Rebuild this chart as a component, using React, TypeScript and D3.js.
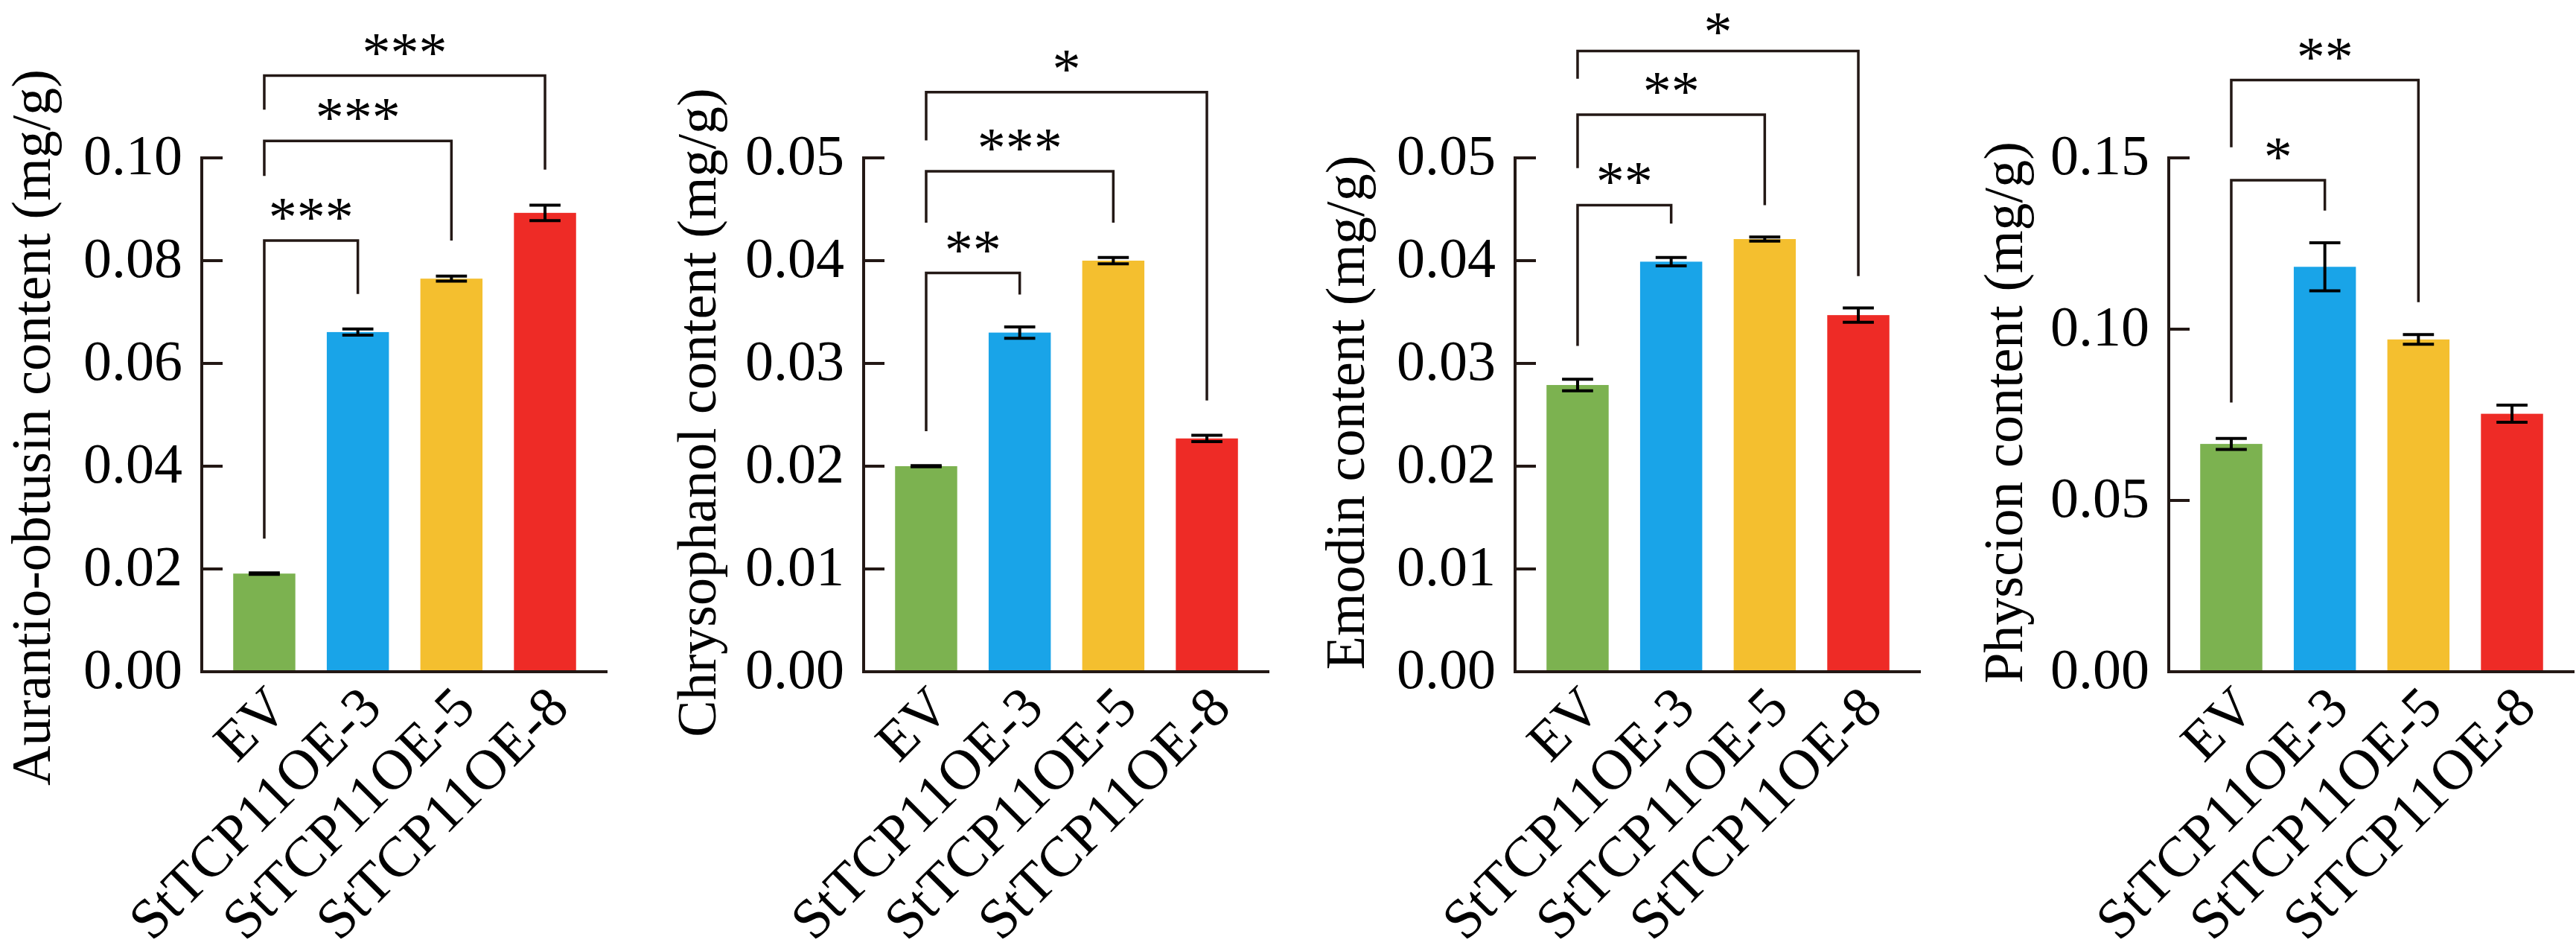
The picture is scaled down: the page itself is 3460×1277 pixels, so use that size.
import React from 'react';
import * as d3 from 'd3';

// groups and colours shared by the four panels
const groups = ['EV', 'StTCP11OE-3', 'StTCP11OE-5', 'StTCP11OE-8'];
const barColors = ['#7cb250', '#19a4e8', '#f4bf2f', '#ee2b26'];

// contents (mg/g), mean and SE
const aurantioMean = [0.0191, 0.0661, 0.0765, 0.0893];
const aurantioErr = [0.00015, 0.0006, 0.0005, 0.0015];
const chrysoMean = [0.0200, 0.0330, 0.0400, 0.0227];
const chrysoErr = [0.00005, 0.00055, 0.0003, 0.0003];
const emodinMean = [0.0279, 0.0399, 0.0421, 0.0347];
const emodinErr = [0.00056, 0.0004, 0.0002, 0.0007];
const physcionMean = [0.0665, 0.1182, 0.0970, 0.0753];
const physcionErr = [0.0016, 0.0070, 0.0014, 0.0025];

const aurantioTicks = [0, 0.02, 0.04, 0.06, 0.08, 0.10];
const chrysoTicks = [0, 0.01, 0.02, 0.03, 0.04, 0.05];
const emodinTicks = [0, 0.01, 0.02, 0.03, 0.04, 0.05];
const physcionTicks = [0, 0.05, 0.10, 0.15];

// significance brackets: [from, to, level, left leg end, right leg end, label]
type Bracket = [number, number, number, number, number, string];
const aurantioSig: Bracket[] = [
  [0, 1, 0.0839, 0.0259, 0.0735, '***'],
  [0, 2, 0.1033, 0.0965, 0.0839, '***'],
  [0, 3, 0.1160, 0.1094, 0.0977, '***'],
];
const chrysoSig: Bracket[] = [
  [0, 1, 0.0388, 0.0234, 0.0367, '**'],
  [0, 2, 0.0487, 0.0437, 0.0437, '***'],
  [0, 3, 0.0564, 0.0517, 0.0264, '*'],
];
const emodinSig: Bracket[] = [
  [0, 1, 0.0454, 0.0317, 0.0436, '**'],
  [0, 2, 0.0542, 0.0490, 0.0454, '**'],
  [0, 3, 0.0604, 0.0577, 0.0385, '*'],
];
const physcionSig: Bracket[] = [
  [0, 1, 0.1435, 0.0786, 0.1346, '*'],
  [0, 2, 0.1727, 0.1531, 0.1079, '**'],
];

const panels = [
  { title: 'Aurantio-obtusin content (mg/g)', mean: aurantioMean, err: aurantioErr, ticks: aurantioTicks, sig: aurantioSig, left: 271, titleGap: 204, titleMid: 574 },
  { title: 'Chrysophanol content (mg/g)', mean: chrysoMean, err: chrysoErr, ticks: chrysoTicks, sig: chrysoSig, left: 1160, titleGap: 199, titleMid: 554 },
  { title: 'Emodin content (mg/g)', mean: emodinMean, err: emodinErr, ticks: emodinTicks, sig: emodinSig, left: 2035, titleGap: 203, titleMid: 554 },
  { title: 'Physcion content (mg/g)', mean: physcionMean, err: physcionErr, ticks: physcionTicks, sig: physcionSig, left: 2913, titleGap: 197, titleMid: 554 },
];

const W = 3460;
const H = 1277;
const plotW = 545;
const yBottom = 902;
const yTop = 212;
const ink = '#231815';
const font = '"Liberation Serif", "Times New Roman", serif';
const fs = 76;
const titleFs = 74;

const Panel = ({ p }: { p: typeof panels[number] }) => {
  const x = d3.scaleBand<string>().domain(groups).range([p.left, p.left + plotW])
    .paddingInner(0.336).paddingOuter(0.336);
  const yMax = p.ticks[p.ticks.length - 1];
  const y = d3.scaleLinear().domain([0, yMax]).range([yBottom, yTop]);
  const cx = (i: number) => (x(groups[i]) || 0) + x.bandwidth() / 2;
  const capW = x.bandwidth() / 2;

  return (
    <g>
      {groups.map((g, i) => (
        <rect key={g} x={x(g)} y={y(p.mean[i])} width={x.bandwidth()}
          height={yBottom - y(p.mean[i])} fill={barColors[i]} />
      ))}
      {groups.map((g, i) => {
        const lo = y(p.mean[i] - p.err[i]);
        const hi = y(p.mean[i] + p.err[i]);
        return (
          <g key={g} stroke="#000" strokeWidth={4}>
            <line x1={cx(i)} x2={cx(i)} y1={lo} y2={hi} />
            <line x1={cx(i) - capW / 2} x2={cx(i) + capW / 2} y1={lo} y2={lo} />
            <line x1={cx(i) - capW / 2} x2={cx(i) + capW / 2} y1={hi} y2={hi} />
          </g>
        );
      })}
      {/* axes */}
      <g stroke={ink} strokeWidth={4} fill="none">
        <line x1={p.left} x2={p.left} y1={y(yMax) - 2} y2={yBottom + 2} />
        <line x1={p.left - 2} x2={p.left + plotW} y1={yBottom} y2={yBottom} />
        {p.ticks.map(t => (
          <line key={t} x1={p.left} x2={p.left + 28} y1={y(t)} y2={y(t)} />
        ))}
      </g>
      <g fontFamily={font} fontSize={fs} fill="#000">
        {p.ticks.map(t => (
          <text key={t} x={p.left - 26} y={y(t)} dy="0.29em" textAnchor="end">
            {d3.format('.2f')(t)}
          </text>
        ))}
        {groups.map((g, i) => (
          <text key={g} textAnchor="end"
            transform={`translate(${cx(i) + 35},${yBottom + 52}) rotate(-45)`}>
            {g}
          </text>
        ))}
        <text textAnchor="middle" fontSize={titleFs}
          transform={`translate(${p.left - p.titleGap},${p.titleMid}) rotate(-90)`}>
          {p.title}
        </text>
      </g>
      {p.sig.map(([a, b, level, leftEnd, rightEnd, label], k) => (
        <g key={k}>
          <path d={`M${cx(a)},${y(leftEnd)}V${y(level)}H${cx(b)}V${y(rightEnd)}`}
            fill="none" stroke={ink} strokeWidth={3.5} />
          <text x={(cx(a) + cx(b)) / 2} y={Math.max(y(level) - 6, fs * 0.9)}
            textAnchor="middle" fontFamily={font} fontSize={fs}>
            {label}
          </text>
        </g>
      ))}
    </g>
  );
};

export default function App() {
  return (
    <svg width={W} height={H} viewBox={`0 0 ${W} ${H}`}
      style={{ position: 'absolute', left: 0, top: 0, background: '#fff' }}>
      <rect width={W} height={H} fill="#fff" />
      {panels.map(p => <Panel key={p.title} p={p} />)}
    </svg>
  );
}
